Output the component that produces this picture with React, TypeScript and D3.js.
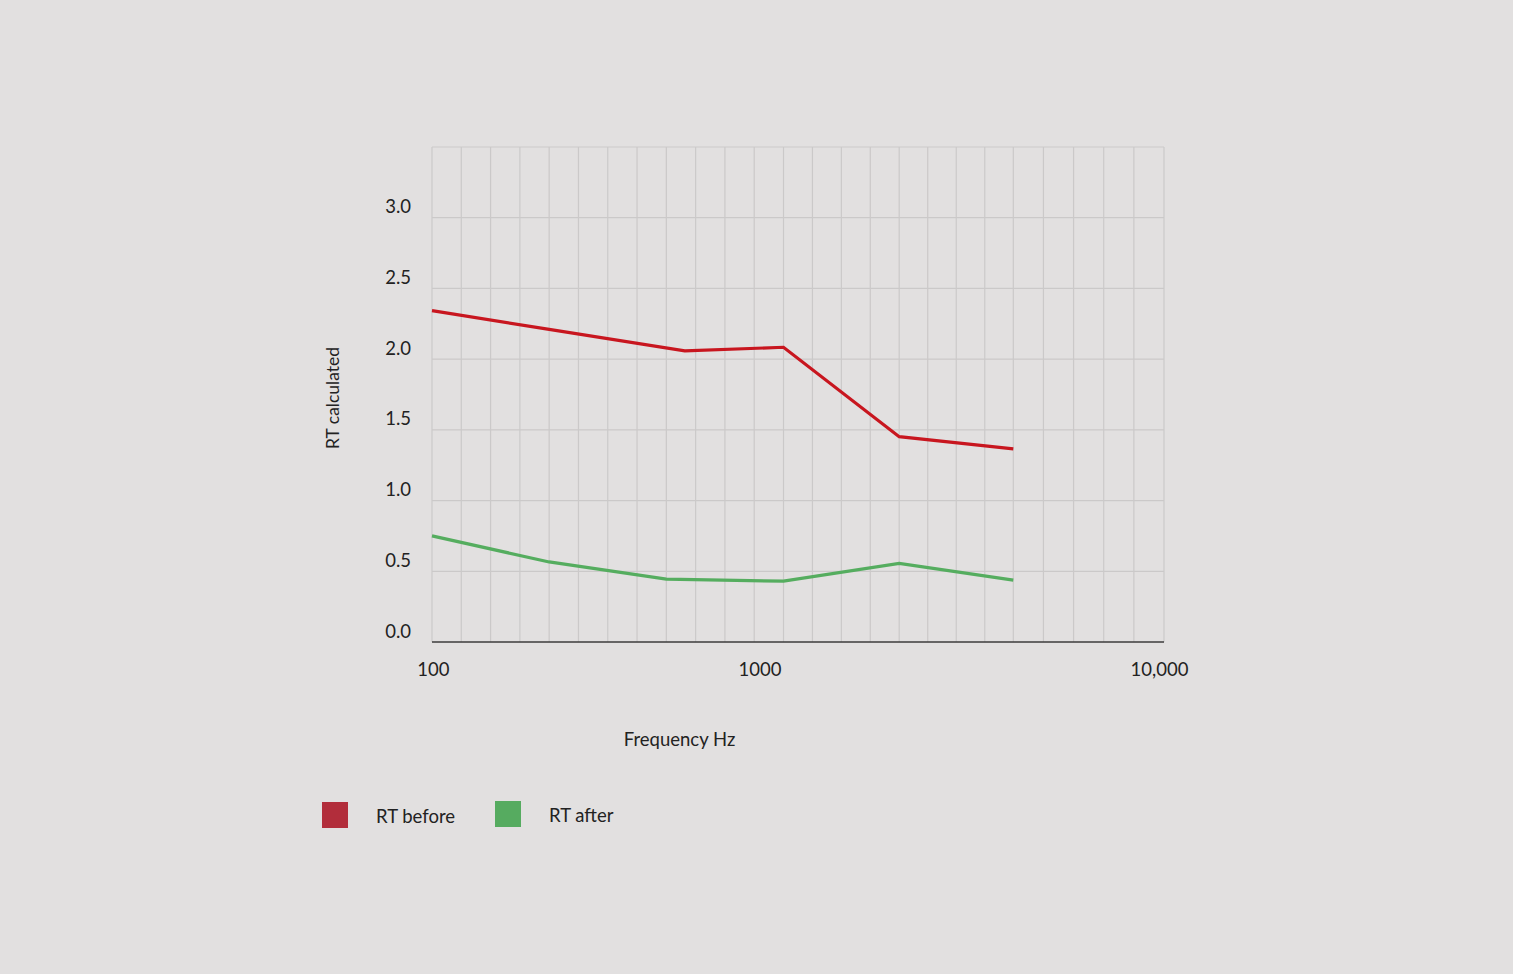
import { useEffect, useRef } from 'react'
import * as d3 from 'd3'

// x positions are in grid steps (25 vertical grid cells across the plot)
const beforePos = [0, 4, 8.63, 12, 16, 20]
const beforeRT = [2.343, 2.21, 2.058, 2.084, 1.452, 1.365]
const afterPos = [0, 4, 8, 12, 16, 20]
const afterRT = [0.75, 0.566, 0.445, 0.43, 0.556, 0.438]

const yTicks = [0, 0.5, 1.0, 1.5, 2.0, 2.5, 3.0]
const xTickLabels = ['100', '1000', '10,000']
const xTickPos = [0.05, 11.2, 24.85]

const legendItems = ['RT before', 'RT after']

const FONT = 'Lato, "Noto Sans", sans-serif'

function RTChart() {
  const ref = useRef<SVGSVGElement>(null)
  const width = 1513
  const height = 974
  const plot = { left: 432, top: 147, right: 1164, bottom: 642 }

  useEffect(() => {
    const svg = d3.select(ref.current)
    svg.selectAll('*').remove()

    svg.append('rect')
      .attr('width', width)
      .attr('height', height)
      .attr('fill', '#e2e0e0')

    // the original grid cells are not perfectly even, so map steps piecewise
    const x = d3.scaleLinear()
      .domain([0, 12, 16, 20, 25])
      .range([plot.left, 783.5, 899.2, 1013.3, plot.right])
    const y = d3.scaleLinear().domain([0, 3.5]).range([plot.bottom, plot.top])

    const grid = svg.append('g').attr('class', 'grid')
    // vertical grid
    grid.selectAll('line.v')
      .data(d3.range(0, 26))
      .join('line')
      .attr('class', 'v')
      .attr('x1', d => x(d)).attr('x2', d => x(d))
      .attr('y1', plot.top).attr('y2', plot.bottom)
      .attr('stroke', '#cbc9c9')
      .attr('stroke-width', 1.2)
    // horizontal grid (incl. top border at 3.5)
    grid.selectAll('line.h')
      .data([0.5, 1.0, 1.5, 2.0, 2.5, 3.0, 3.5])
      .join('line')
      .attr('class', 'h')
      .attr('x1', plot.left).attr('x2', plot.right)
      .attr('y1', d => y(d)).attr('y2', d => y(d))
      .attr('stroke', '#cbc9c9')
      .attr('stroke-width', 1.2)

    // x axis baseline
    svg.append('line')
      .attr('x1', plot.left).attr('x2', plot.right)
      .attr('y1', y(0)).attr('y2', y(0))
      .attr('stroke', '#3c3c3c')
      .attr('stroke-width', 1.5)

    // y tick labels (sit just above the grid line)
    svg.append('g').selectAll('text')
      .data(yTicks)
      .join('text')
      .attr('x', 411)
      .attr('y', d => y(d) - 4.5)
      .attr('text-anchor', 'end')
      .attr('font-family', FONT)
      .attr('font-size', 18.5)
      .attr('fill', '#222')
      .text(d => d.toFixed(1))

    // x tick labels
    svg.append('g').selectAll('text')
      .data(xTickLabels)
      .join('text')
      .attr('x', (d, i) => x(xTickPos[i]))
      .attr('y', 676)
      .attr('text-anchor', 'middle')
      .attr('font-family', FONT)
      .attr('font-size', 18.5)
      .attr('fill', '#222')
      .text(d => d)

    // axis titles
    svg.append('text')
      .attr('transform', 'translate(339,398) rotate(-90)')
      .attr('text-anchor', 'middle')
      .attr('font-family', FONT)
      .attr('font-size', 17.5)
      .attr('fill', '#222')
      .text('RT calculated')

    svg.append('text')
      .attr('x', 679.5)
      .attr('y', 745.5)
      .attr('text-anchor', 'middle')
      .attr('font-family', FONT)
      .attr('font-size', 18.5)
      .attr('fill', '#222')
      .text('Frequency Hz')

    // lines
    const line = d3.line<[number, number]>()
      .x(d => x(d[0]))
      .y(d => y(d[1]))

    svg.append('path')
      .datum(beforePos.map((p, i) => [p, beforeRT[i]] as [number, number]))
      .attr('d', line)
      .attr('fill', 'none')
      .attr('stroke', '#c8161f')
      .attr('stroke-width', 3.2)

    svg.append('path')
      .datum(afterPos.map((p, i) => [p, afterRT[i]] as [number, number]))
      .attr('d', line)
      .attr('fill', 'none')
      .attr('stroke', '#55ad5f')
      .attr('stroke-width', 3.2)

    // legend
    const legendColors = ['#b22d3b', '#56ab60']
    const legendX = [322, 495]
    const legend = svg.append('g').selectAll('g')
      .data(legendItems)
      .join('g')
      .attr('transform', (d, i) => `translate(${legendX[i]},${i === 0 ? 802 : 801})`)
    legend.append('rect')
      .attr('width', 26)
      .attr('height', 26)
      .attr('fill', (d, i) => legendColors[i])
    legend.append('text')
      .attr('x', 54)
      .attr('y', 21)
      .attr('font-family', FONT)
      .attr('font-size', 18.5)
      .attr('fill', '#222')
      .text(d => d)
  }, [])

  return (
    <svg
      ref={ref}
      width={width}
      height={height}
      style={{ position: 'absolute', left: 0, top: 0, display: 'block' }}
    ></svg>
  )
}

export default function App() {
  return <RTChart />
}
